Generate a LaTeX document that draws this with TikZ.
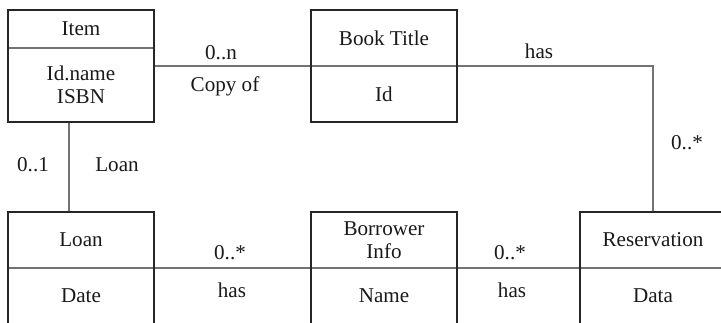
\documentclass[tikz,border=0pt]{standalone}
\usepackage{fontspec}
\setmainfont{Liberation Serif}
\usetikzlibrary{positioning}

\begin{document}
\begin{tikzpicture}[
 part/.style={minimum width=3.65cm,inner sep=0pt,outer sep=0pt,align=center,text=black!90,font=\fontsize{15}{16.5}\selectfont},
 frame/.style={draw=black!85,line width=1.3pt},
 divl/.style={draw=black!55,line width=0.8pt},
 link/.style={draw=black!55,line width=0.8pt},
 lbl/.style={inner sep=1pt,text=black!90,font=\fontsize{15}{16.5}\selectfont}]
 \useasboundingbox (0,0) rectangle (18.025,8.05);
 \clip (0,0) rectangle (18.025,8.05);
 % classes, top row
 \node[part,minimum height=0.95cm] (itemT) at (2.025,7.325) {Item};
 \node[part,minimum height=1.85cm,below=0pt of itemT] (itemB) {Id.name\\ISBN};
 \node[part,minimum height=1.4cm] (bookT) at (9.6,7.1) {Book Title};
 \node[part,minimum height=1.4cm,below=0pt of bookT] (bookB) {Id};
 % classes, bottom row
 \node[part,minimum height=1.4cm] (loanT) at (2.025,2.05) {Loan};
 \node[part,minimum height=1.4cm,below=0pt of loanT] (loanB) {Date};
 \node[part,minimum height=1.4cm] (borT) at (9.6,2.05) {Borrower\\Info};
 \node[part,minimum height=1.4cm,below=0pt of borT] (borB) {Name};
 \node[part,minimum height=1.4cm] (resT) at (16.325,2.05) {Reservation};
 \node[part,minimum height=1.4cm,below=0pt of resT] (resB) {Data};
 % associations
 \draw[link] (itemB.east |- bookT.south) -- (bookT.south west);
 \draw[link] (bookT.south east) -| (resT.north);
 \draw[link] ([xshift=-3mm]itemB.south) -- ([xshift=-3mm]loanT.north);
 \draw[link] (loanT.south east) -- (borT.south west);
 \draw[link] (borT.south east) -- (resT.south west);
 % frames and dividers
 \foreach \c in {item,book,loan,bor,res} {
  \draw[divl] (\c T.south west) -- (\c T.south east);
  \draw[frame] (\c T.north west) rectangle (\c B.south east);
 }
 % multiplicities and role names
 \node[lbl] (copyN) at (5.525,6.725) {0..n};
 \node[lbl] (copyR) at (5.625,5.9) {Copy of};
 \node[lbl] (resR) at (13.475,6.775) {has};
 \node[lbl] (resN) at (17.175,4.475) {0..*};
 \node[lbl] (loanN) at (0.825,3.925) {0..1};
 \node[lbl] (loanR) at (2.925,3.925) {Loan};
 \node[lbl] (borN) at (5.75,1.725) {0..*};
 \node[lbl] (borR) at (5.8,0.8) {has};
 \node[lbl] (bresN) at (12.75,1.725) {0..*};
 \node[lbl] (bresR) at (12.8,0.8) {has};
\end{tikzpicture}
\end{document}
